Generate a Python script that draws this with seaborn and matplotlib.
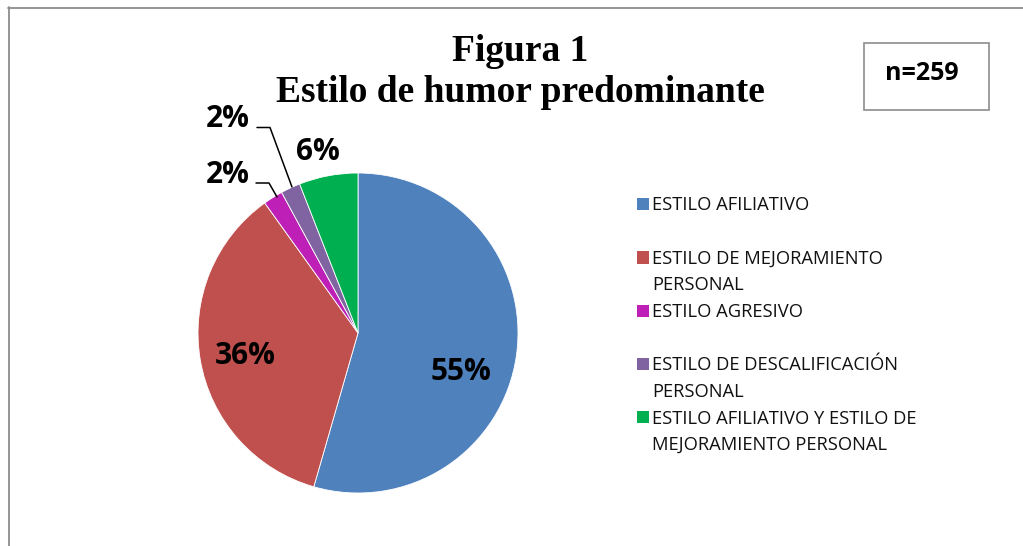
import matplotlib
matplotlib.use("Agg")
import matplotlib.pyplot as plt
import seaborn as sns
from matplotlib.patches import Rectangle
from matplotlib.lines import Line2D

# ---- data ----
categories = [
    "ESTILO AFILIATIVO",
    "ESTILO DE MEJORAMIENTO\nPERSONAL",
    "ESTILO AGRESIVO",
    "ESTILO DE DESCALIFICACIÓN\nPERSONAL",
    "ESTILO AFILIATIVO Y ESTILO DE\nMEJORAMIENTO PERSONAL",
]
percentages = [55, 36, 2, 2, 6]
pct_labels = ["55%", "36%", "2%", "2%", "6%"]
colors = ["#4F81BD", "#C0504D", "#BE1FB6", "#8064A2", "#00B050"]
title_lines = ["Figura 1", "Estilo de humor predominante"]
sample_label = "n=259"

sns.set_theme(style="white")
plt.rcParams["font.family"] = ["Open Sans", "DejaVu Sans"]
plt.rcParams["text.color"] = "black"

W, H = 1023, 546
fig = plt.figure(figsize=(W / 100, H / 100), dpi=100)
fig.patch.set_facecolor("white")

def fx(px):
    return px / W

def fy(py):
    return 1 - py / H

# outer frame (top and left visible)
fig.add_artist(Line2D([fx(8), fx(1030)], [fy(7.5), fy(7.5)], color="#8c8c8c", lw=1.3))
fig.add_artist(Line2D([fx(8.5), fx(8.5)], [fy(7), fy(560)], color="#8c8c8c", lw=1.3))

# pie axes
cx, cy, r = 358, 333, 160
ax = fig.add_axes([fx(cx - r), fy(cy + r), 2 * r / W, 2 * r / H])
wedges, _ = ax.pie(percentages, colors=colors, startangle=90, counterclock=False,
                   radius=1, wedgeprops=dict(linewidth=0.6, edgecolor="white"))
ax.set_xlim(-1, 1)
ax.set_ylim(-1, 1)
ax.set_aspect("auto")
ax.axis("off")

def dx(px):
    return (px - cx) / r

def dy(py):
    return (cy - py) / r

label_pos = [(461, 372), (245, 356), (228, 175), (228, 119), (318, 152)]
for lab, (px, py) in zip(pct_labels, label_pos):
    ax.text(dx(px), dy(py), lab, ha="center", va="center", fontsize=21.5,
            fontweight="bold", color="black", clip_on=False)

# leader lines for small slices
ax.add_line(Line2D([dx(256), dx(269), dx(277)], [dy(183), dy(183), dy(197)],
                   color="black", lw=1.1, clip_on=False))
ax.add_line(Line2D([dx(257), dx(270), dx(292)], [dy(127.5), dy(127.5), dy(187)],
                   color="black", lw=1.1, clip_on=False))

# title
fig.text(fx(520.5), fy(61), title_lines[0], ha="center", va="baseline",
         fontsize=27, fontweight="bold", color="black",
         family=["Liberation Serif", "DejaVu Serif"])
fig.text(fx(520), fy(102.5), title_lines[1], ha="center", va="baseline",
         fontsize=27, fontweight="bold", color="black",
         family=["Liberation Serif", "DejaVu Serif"])

# n box
fig.add_artist(Rectangle((fx(864), fy(110)), fx(989) - fx(864), fy(43) - fy(110),
                         facecolor="white", edgecolor="#8c8c8c", lw=1.2))
fig.text(fx(922), fy(73), sample_label, ha="center", va="center",
         fontsize=18, fontweight="bold", color="black")

# legend
leg_center = [203.5, 257.5, 310.5, 363.8, 417.0]
line_gap = 26.5
for cat, col, yc in zip(categories, colors, leg_center):
    fig.add_artist(Rectangle((fx(636.5), fy(yc + 6)), fx(648.5) - fx(636.5),
                             fy(yc - 6) - fy(yc + 6),
                             facecolor=col, edgecolor="none"))
    for i, line in enumerate(cat.split("\n")):
        fig.text(fx(652.5), fy(yc + 6.5 + i * line_gap), line, ha="left",
                 va="baseline", fontsize=13.2, color="#111111")

fig.savefig("out.png", dpi=100, facecolor="white")
